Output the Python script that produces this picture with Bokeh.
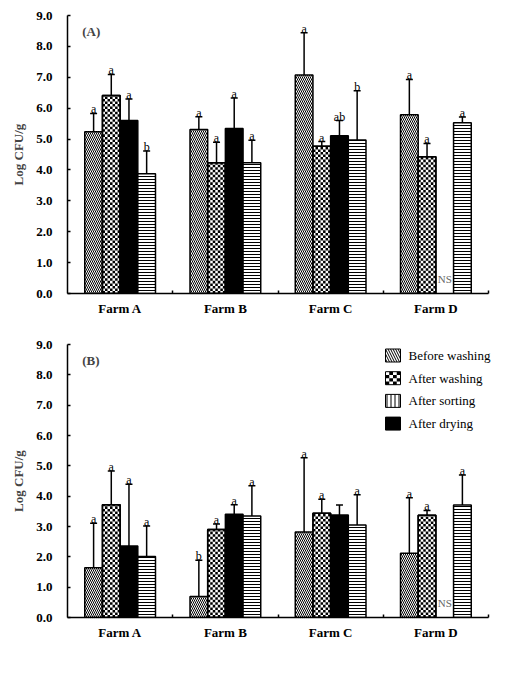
from bokeh.plotting import figure
from bokeh.models import (Range1d, FixedTicker, PrintfTickFormatter, ColumnDataSource,
                          Whisker, TeeHead, Label, BoxAnnotation)
from bokeh.layouts import column
from bokeh.embed import file_html
from bokeh.resources import INLINE
from bokeh.core.properties import value

farms = ["Farm A", "Farm B", "Farm C", "Farm D"]
series = ["Before washing", "After washing", "After drying", "After sorting"]
legend_order = ["Before washing", "After washing", "After sorting", "After drying"]

# Panel A (means and SD)
a_before = [5.24, 5.31, 7.07, 5.79]
a_before_sd = [0.59, 0.41, 1.37, 1.14]
a_washing = [6.41, 4.23, 4.77, 4.43]
a_washing_sd = [0.68, 0.67, 0.15, 0.43]
a_drying = [5.60, 5.34, 5.11, None]
a_drying_sd = [0.70, 0.99, 0.49, None]
a_sorting = [3.88, 4.23, 4.97, 5.53]
a_sorting_sd = [0.73, 0.73, 1.59, 0.18]
a_letters = [["a", "a", "a", "a"], ["a", "a", "a", "a"], ["a", "a", "ab", "NS"], ["b", "a", "b", "a"]]

# Panel B
b_before = [1.64, 0.69, 2.82, 2.12]
b_before_sd = [1.47, 1.20, 2.45, 1.83]
b_washing = [3.72, 2.90, 3.44, 3.37]
b_washing_sd = [1.11, 0.18, 0.46, 0.16]
b_drying = [2.36, 3.40, 3.38, None]
b_drying_sd = [2.03, 0.32, 0.33, None]
b_sorting = [2.01, 3.35, 3.05, 3.71]
b_sorting_sd = [1.01, 0.99, 1.00, 0.99]
b_letters = [["a", "b", "a", "a"], ["a", "a", "a", "a"], ["a", "a", "", "NS"], ["a", "a", "a", "a"]]

y_ticks = [0, 1, 2, 3, 4, 5, 6, 7, 8, 9]

FONT = "Liberation Serif"

# layout constants (pixels)
FIG_W = 503
BORDER_L = 67
BORDER_R = 4
FRAME_W = FIG_W - BORDER_L - BORDER_R          # frame extends a bit past the axis end
AXIS_PX = 421                                   # pixel length of the 4 farm groups
X_END = len(farms) * FRAME_W / AXIS_PX
BW = 0.168                                      # bar width in group units
CELL_COLS = 7                                   # checker cells across a bar


def bar_style(name):
    if name == "Before washing":
        return dict(fill_color="white", hatch_pattern="left_diagonal_line",
                    hatch_scale=4, hatch_weight=1, hatch_color="black")
    if name == "After washing":
        return dict(fill_color="white")
    if name == "After drying":
        return dict(fill_color="black")
    return dict(fill_color="white", hatch_pattern="horizontal_line",
                hatch_scale=3, hatch_weight=1, hatch_color="black")


def make_panel(tag, means, sds, letters, height, bt, bb, with_legend):
    frame_h = height - bt - bb
    p = figure(width=FIG_W, height=height, x_range=Range1d(0, X_END), y_range=Range1d(0, 9),
               output_backend="svg", toolbar_location=None,
               min_border_left=BORDER_L, min_border_right=BORDER_R,
               min_border_top=bt, min_border_bottom=bb)
    p.outline_line_color = None
    p.grid.visible = False
    p.background_fill_color = "white"

    px_per_y = frame_h / 9.0
    cell_x = BW / CELL_COLS
    cell_px = cell_x * FRAME_W / X_END
    cell_y = cell_px / px_per_y

    n = len(means)
    for k in range(n):
        xs, tops, lo, hi, lx, ly, lt = [], [], [], [], [], [], []
        nsx = []
        for i, farm in enumerate(farms):
            xc = i + 0.5 + (k - (n - 1) / 2) * BW
            m = means[k][i]
            if m is None:
                if letters[k][i]:
                    nsx.append(xc)
                continue
            xs.append(xc)
            tops.append(m)
            lo.append(m)
            hi.append(m + sds[k][i])
            if letters[k][i]:
                lx.append(xc)
                ly.append(m + sds[k][i])
                lt.append(letters[k][i])
        p.vbar(x=xs, top=tops, bottom=0, width=BW, line_color="black", line_width=1.5,
               **bar_style(series[k]))
        if series[k] == "After washing":
            # checkerboard fill, cells derived from each bar's value
            ql, qr, qb, qt = [], [], [], []
            for xc, m in zip(xs, tops):
                x0 = xc - BW / 2
                r = 0
                while r * cell_y < m:
                    y0 = r * cell_y
                    y1 = min((r + 1) * cell_y, m)
                    for j in range(CELL_COLS):
                        if (r + j) % 2 == 0:
                            ql.append(x0 + j * cell_x)
                            qr.append(x0 + (j + 1) * cell_x)
                            qb.append(y0)
                            qt.append(y1)
                    r += 1
            p.quad(left=ql, right=qr, bottom=qb, top=qt, fill_color="black", line_color=None)
            p.vbar(x=xs, top=tops, bottom=0, width=BW, line_color="black", line_width=1.5,
                   fill_color=None)
        src = ColumnDataSource(dict(x=xs, lo=lo, hi=hi))
        w = Whisker(source=src, base="x", lower="lo", upper="hi",
                    upper_head=TeeHead(size=7, line_width=1.5, line_color="black"),
                    lower_head=None, line_width=1.5, line_color="black", level="glyph")
        p.add_layout(w)
        p.text(x=lx, y=ly, text=lt, text_font=value(FONT), text_font_size="12px",
               text_color="black", text_align="center", text_baseline="alphabetic",
               y_offset=-4)
        if nsx:
            p.text(x=nsx, y=[0] * len(nsx), text=["NS"] * len(nsx), text_font=value(FONT),
                   text_font_size="11px", text_color="#666666", text_align="center",
                   text_baseline="bottom", y_offset=-9)

    # axes
    ya = p.yaxis[0]
    ya.ticker = FixedTicker(ticks=y_ticks, minor_ticks=[])
    ya.formatter = PrintfTickFormatter(format="%.1f")
    ya.major_tick_in = 3
    ya.major_tick_out = 0
    ya.minor_tick_out = 0
    ya.major_tick_line_width = 1.5
    ya.axis_line_width = 1.5
    ya.major_label_standoff = 15
    ya.major_label_text_font = FONT
    ya.major_label_text_font_style = "bold"
    ya.major_label_text_font_size = "13px"
    ya.major_label_text_color = "black"
    ya.axis_label = "Log CFU/g"
    ya.axis_label_text_font = FONT
    ya.axis_label_text_font_style = "bold"
    ya.axis_label_text_font_size = "13px"
    ya.axis_label_standoff = 7

    xa = p.xaxis[0]
    centers = [i + 0.5 for i in range(len(farms))]
    xa.ticker = FixedTicker(ticks=centers, minor_ticks=[i + 1 for i in range(len(farms))])
    xa.bounds = (0, len(farms))
    overrides = {}
    for c, f in zip(centers, farms):
        overrides[c] = f
        overrides[str(c)] = f
    xa.major_label_overrides = overrides
    xa.major_tick_line_color = None
    xa.major_tick_in = 0
    xa.major_tick_out = 0
    xa.minor_tick_in = 3
    xa.minor_tick_out = 0
    xa.minor_tick_line_width = 1.5
    xa.axis_line_width = 1.5
    xa.major_label_standoff = 7
    xa.major_label_text_font = FONT
    xa.major_label_text_font_style = "bold"
    xa.major_label_text_font_size = "13px"
    xa.major_label_text_color = "black"

    p.add_layout(Label(x=0.14, y=8.48, text=tag, text_font=FONT, text_font_style="bold",
                       text_font_size="13px", text_baseline="middle", text_align="left"))

    if with_legend:
        # legend drawn in frame-relative screen units (y measured up from frame bottom)
        icon_l, icon_w, icon_h = 318, 15, 13
        text_x = icon_l + icon_w + 8
        row0, row_gap = 262, 22.7
        legend_styles = {
            "Before washing": dict(fill_color="white", hatch_pattern="left_diagonal_line",
                                   hatch_scale=5, hatch_weight=1, hatch_color="black"),
            "After washing": dict(fill_color="white"),
            "After sorting": dict(fill_color="white", hatch_pattern="vertical_line",
                                  hatch_scale=4, hatch_weight=1, hatch_color="black"),
            "After drying": dict(fill_color="black"),
        }
        for idx, name in enumerate(legend_order):
            cy = row0 - idx * row_gap
            b0, t0 = cy - icon_h / 2, cy + icon_h / 2
            p.add_layout(BoxAnnotation(left=icon_l, right=icon_l + icon_w, bottom=b0, top=t0,
                                       left_units="screen", right_units="screen",
                                       bottom_units="screen", top_units="screen",
                                       fill_alpha=1, line_color="black", line_alpha=1,
                                       line_width=1, **legend_styles[name]))
            if name == "After washing":
                nc, nr = 4, 4
                cw, ch = icon_w / nc, icon_h / nr
                for rr in range(nr):
                    for cc in range(nc):
                        if (rr + cc) % 2 == 0:
                            p.add_layout(BoxAnnotation(
                                left=icon_l + cc * cw, right=icon_l + (cc + 1) * cw,
                                bottom=b0 + rr * ch, top=b0 + (rr + 1) * ch,
                                left_units="screen", right_units="screen",
                                bottom_units="screen", top_units="screen",
                                fill_color="black", fill_alpha=1, line_color=None))
            p.add_layout(Label(x=text_x, y=cy, x_units="screen", y_units="screen", text=name,
                               text_font=FONT, text_font_size="13px", text_color="black",
                               text_baseline="middle", text_align="left"))
    return p


pa = make_panel("(A)", [a_before, a_washing, a_drying, a_sorting],
                [a_before_sd, a_washing_sd, a_drying_sd, a_sorting_sd], a_letters,
                327, 15, 34, False)
pb = make_panel("(B)", [b_before, b_washing, b_drying, b_sorting],
                [b_before_sd, b_washing_sd, b_drying_sd, b_sorting_sd], b_letters,
                340, 17, 50, True)

layout = column(pa, pb, spacing=0)
open("out.html", "w").write(file_html(layout, INLINE))
